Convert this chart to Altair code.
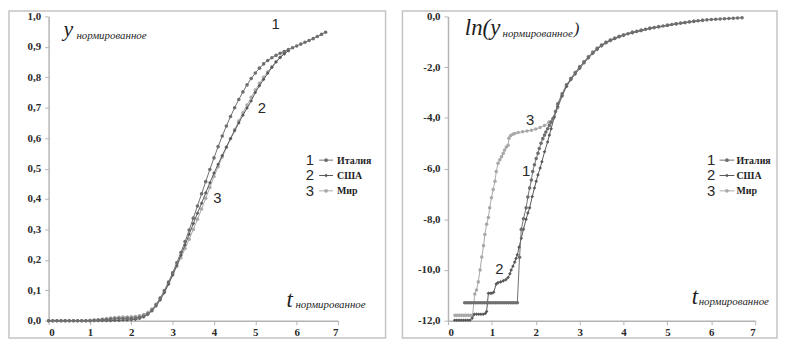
import altair as alt
import pandas as pd

# ---------------- data: left panel (y normalised vs t normalised) ----------------
t_left = [0.0, 0.1, 0.2, 0.3, 0.4, 0.5, 0.6, 0.7, 0.8, 0.9, 1.0, 1.1, 1.2, 1.3, 1.4, 1.5, 1.6, 1.7,
          1.8, 1.9, 2.0, 2.1, 2.2, 2.3, 2.4, 2.5, 2.6, 2.7, 2.8, 2.9, 3.0, 3.1, 3.2, 3.3, 3.4, 3.5,
          3.6, 3.7, 3.8, 3.9, 4.0, 4.1, 4.2, 4.3, 4.4, 4.5, 4.6, 4.7, 4.8, 4.9, 5.0, 5.1, 5.2, 5.3,
          5.4, 5.5, 5.6, 5.7, 5.8, 5.9, 6.0, 6.1, 6.2, 6.3, 6.4, 6.5, 6.6, 6.7]
y_left_italy = [0, 0, 0, 0, 0, 0, 0, 0, 0, 0, 0,
                .001, .002, .003, .004, .005, .006, .007, .007, .008, .008,
                .009, .011, .015, .023, .035, .052, .074, .099, .127, .157,
                .19, .224, .26, .298, .337, .377, .417, .457, .497, .535,
                .572, .607, .64, .671, .7, .727, .752, .775, .796, .814,
                .83, .844, .855, .864, .872, .879, .885, .891, .897, .903,
                .909, .915, .921, .927, .934, .941, .948]
y_left_usa = [0, 0, 0, 0, 0, 0, 0, 0, 0, 0, 0, 0, 0, 0, 0, 0,
              .001, .001, .002, .002, .003,
              .004, .007, .012, .02, .032, .048, .068, .092, .12, .15,
              .182, .215, .249, .284, .319, .353, .386, .42, .453, .485,
              .514, .543, .571, .598, .624, .65, .675, .699, .722, .75,
              .772, .793, .813, .832, .85, .865, .877, .887]
y_left_world = [0, 0, 0, 0, 0, 0, 0, 0, 0, 0,
                .001, .002, .003, .005, .007, .009, .01, .011, .012, .012, .013,
                .014, .016, .02, .027, .038, .054, .074, .097, .123, .15,
                .178, .207, .237, .268, .3, .333, .367, .402, .438, .474,
                .506, .538, .569, .599, .628, .656, .683, .709, .734, .758,
                .78, .8, .818, .835, .851, .866, .878, .888]

# ---------------- data: right panel (ln y normalised vs t normalised) ----------------
t_right_italy = [0.38, 0.43, 0.48, 0.53, 0.58, 0.63, 0.68, 0.73, 0.78, 0.83, 0.88, 0.93, 0.98,
                 1.03, 1.08, 1.13, 1.18, 1.23, 1.28, 1.33, 1.38, 1.43, 1.48, 1.53, 1.58,
                 1.63, 1.67, 1.72, 1.78, 1.82, 1.86, 1.90, 1.93, 1.97, 2.01, 2.05, 2.08, 2.12,
                 2.16, 2.20, 2.23, 2.27, 2.31, 2.35, 2.39, 2.45,
                 2.5, 2.6, 2.7, 2.8, 2.9, 3.0, 3.1, 3.2, 3.3, 3.4, 3.5, 3.6, 3.7, 3.8, 3.9, 4.0,
                 4.1, 4.2, 4.3, 4.4, 4.5, 4.6, 4.7, 4.8, 4.9, 5.0, 5.1, 5.2, 5.3, 5.4, 5.5, 5.6,
                 5.7, 5.8, 5.9, 6.0, 6.1, 6.2, 6.3, 6.4, 6.5, 6.6, 6.7]
ln_right_italy = [-11.29, -11.29, -11.29, -11.29, -11.29, -11.29, -11.29, -11.29, -11.29,
                  -11.29, -11.29, -11.29, -11.29, -11.29, -11.29, -11.29, -11.29, -11.29,
                  -11.29, -11.29, -11.29, -11.29, -11.29, -11.29, -11.29,
                  -9.5, -8.4, -7.98, -7.55, -7.12, -6.77, -6.45, -6.12, -5.85, -5.6, -5.4,
                  -5.21, -5.0, -4.82, -4.68, -4.56, -4.43, -4.3, -4.17, -4.04, -3.75,
                  -3.45, -3.05, -2.7, -2.45, -2.22, -2.0, -1.8, -1.6, -1.42, -1.27,
                  -1.14, -1.03, -0.94, -0.86, -0.79, -0.73, -0.68, -0.63, -0.59, -0.55,
                  -0.51, -0.47, -0.44, -0.41, -0.38, -0.35, -0.32, -0.29, -0.265, -0.24,
                  -0.215, -0.19, -0.17, -0.15, -0.135, -0.12, -0.11, -0.10, -0.09, -0.08,
                  -0.07, -0.06, -0.05]
t_right_usa = [0.15, 0.2, 0.25, 0.3, 0.35, 0.4, 0.45, 0.5, 0.55, 0.6, 0.65, 0.7, 0.75, 0.8, 0.85,
               0.88, 0.92, 0.96, 1.0, 1.04,
               1.1, 1.14, 1.2, 1.26, 1.32, 1.37, 1.41, 1.44, 1.48, 1.52, 1.55, 1.58, 1.62, 1.67,
               1.72, 1.78, 1.82, 1.86, 1.92, 1.97, 2.01, 2.05, 2.1, 2.14, 2.2, 2.27, 2.31, 2.35,
               2.42,
               2.5, 2.6, 2.7, 2.8, 2.9, 3.0, 3.1, 3.2, 3.3, 3.4, 3.5, 3.6, 3.7, 3.8, 3.9, 4.0,
               4.2, 4.4, 4.6, 4.8, 5.0, 5.2, 5.4, 5.6, 5.8]
ln_right_usa = [-11.98, -11.98, -11.98, -11.98, -11.98, -11.98, -11.98, -11.98, -11.9,
                -11.75, -11.75, -11.75, -11.75, -11.75, -11.72, -11.64,
                -10.92, -10.92, -10.92, -10.88,
                -10.55, -10.5, -10.47, -10.43, -10.38, -10.3, -10.15, -10.0, -9.85, -9.69,
                -9.55, -9.4, -9.1, -8.75, -8.39, -8.0, -7.75, -7.55, -7.1, -6.77, -6.5,
                -6.25, -5.98, -5.73, -5.34, -4.95, -4.68, -4.43, -3.97,
                -3.55, -3.12, -2.76, -2.5, -2.27, -2.05, -1.84, -1.64, -1.46, -1.3, -1.16,
                -1.05, -0.96, -0.88, -0.81, -0.75,
                -0.65, -0.56, -0.48, -0.42, -0.36, -0.3, -0.25, -0.2, -0.16]
t_right_world = [0.16, 0.21, 0.26, 0.31, 0.36, 0.41, 0.46, 0.51, 0.56,
                 0.61, 0.65, 0.69, 0.73, 0.77, 0.81, 0.84, 0.88, 0.92, 0.95, 0.99, 1.03, 1.07,
                 1.1, 1.14, 1.18, 1.22, 1.26, 1.29, 1.33, 1.37, 1.39, 1.43, 1.48, 1.52, 1.6,
                 1.7, 1.8, 1.9, 2.0, 2.1, 2.2, 2.3, 2.42,
                 2.5, 2.6, 2.7, 2.8, 2.9, 3.0, 3.1, 3.2, 3.3, 3.4, 3.5, 3.6, 3.7, 3.8, 3.9, 4.0,
                 4.2, 4.4, 4.6, 4.8, 5.0, 5.2, 5.4, 5.6, 5.8]
ln_right_world = [-11.79, -11.79, -11.79, -11.79, -11.79, -11.79, -11.79, -11.79, -11.79,
                  -10.95, -10.79, -10.47, -10.0, -9.49, -9.04, -8.6, -8.2, -7.93, -7.55,
                  -7.15, -6.83, -6.5, -6.12, -5.79, -5.65, -5.53, -5.4, -5.27, -5.15, -5.08,
                  -4.8, -4.7, -4.65, -4.62, -4.58, -4.55, -4.52, -4.49, -4.44, -4.38, -4.3,
                  -4.17, -3.97,
                  -3.6, -3.15, -2.75, -2.45, -2.2, -1.98, -1.78, -1.58, -1.4, -1.25, -1.12,
                  -1.01, -0.92, -0.85, -0.78, -0.72,
                  -0.62, -0.54, -0.46, -0.4, -0.34, -0.29, -0.24, -0.19, -0.15]

series_names = ["Италия", "США", "Мир"]
series_numbers = ["1", "2", "3"]
series_colors = ["#6f6f6f", "#585858", "#a9a9a9"]
series_shapes = ["circle", "diamond", "circle"]

left_ticks_y = [0.0, 0.1, 0.2, 0.3, 0.4, 0.5, 0.6, 0.7, 0.8, 0.9, 1.0]
right_ticks_y = [-12, -10, -8, -6, -4, -2, 0]
ticks_x = [0, 1, 2, 3, 4, 5, 6, 7]

# curve number labels (data coordinates)
left_labels_t = [5.49, 5.16, 4.08]
left_labels_v = [0.974, 0.70, 0.404]
right_labels_t = [1.78, 1.17, 1.87]
right_labels_v = [-6.08, -9.97, -4.07]


def frame(df_t, df_v):
    return pd.DataFrame({"t": df_t, "v": df_v})


left_data = {
    "Италия": frame(t_left[:len(y_left_italy)], y_left_italy),
    "США": frame(t_left[:len(y_left_usa)], y_left_usa),
    "Мир": frame(t_left[:len(y_left_world)], y_left_world),
}
right_data = {
    "Италия": frame(t_right_italy, ln_right_italy),
    "США": frame(t_right_usa, ln_right_usa),
    "Мир": frame(t_right_world, ln_right_world),
}

ONE = alt.Data(values=[{"a": 1}])
SERIF = "Liberation Serif, Times New Roman, serif"
SANS = "Liberation Sans, Arial, sans-serif"
LABEL_EXPR = "replace(replace(format(datum.value, '.1f'), '.', ','), '\u2212', '-')"
FRAME_TOP = -5.5
FRAME_BOTTOM = 324.5


def text_px(txt, x, y, size, style="normal", weight="normal", font=SERIF,
            align="left", baseline="alphabetic", color="#1e1e1e"):
    return alt.Chart(ONE).mark_text(
        text=txt, font=font, fontSize=size, fontStyle=style, fontWeight=weight,
        align=align, baseline=baseline, color=color
    ).encode(x=alt.value(x), y=alt.value(y))


def panel(data, ydomain, yticks, width, height, frame_l, frame_r, lab_t, lab_v,
          titles, legend_x):
    xenc = alt.X("t:Q", scale=alt.Scale(domain=[0, 7], nice=False, zero=False),
                 axis=alt.Axis(values=ticks_x, format="d", title=None, labelOverlap=False))
    yenc = alt.Y("v:Q", scale=alt.Scale(domain=ydomain, nice=False, zero=False),
                 axis=alt.Axis(values=yticks, labelExpr=LABEL_EXPR, title=None,
                               labelOverlap=False))
    layers = [
        alt.Chart(ONE).mark_rect(fillOpacity=0, stroke="#c4c4c4", strokeWidth=1.5).encode(
            x=alt.value(frame_l), x2=alt.value(width + frame_r),
            y=alt.value(FRAME_TOP), y2=alt.value(FRAME_BOTTOM))
    ]
    for idx in [2, 1, 0]:
        name = series_names[idx]
        df = data[name]
        base = alt.Chart(df)
        layers.append(base.mark_line(color=series_colors[idx], strokeWidth=1).encode(
            x=xenc, y=yenc))
        layers.append(base.mark_point(color=series_colors[idx], shape=series_shapes[idx],
                                      filled=True, size=13, opacity=1).encode(x=xenc, y=yenc))
    lab_df = pd.DataFrame({"t": lab_t, "v": lab_v, "label": series_numbers})
    layers.append(alt.Chart(lab_df).mark_text(
        font=SANS, fontSize=15, align="center", baseline="middle", color="#2a2a2a"
    ).encode(x=xenc, y=yenc, text="label:N"))
    for tt in titles:
        layers.append(text_px(*tt[:4], style="italic"))
    nx, lx1, lx2, mx, tx = legend_x
    for i, yy in enumerate([145, 160.5, 176]):
        layers.append(text_px(series_numbers[i], nx, yy, 15, font=SANS, align="center",
                              baseline="middle", color="#2a2a2a"))
        layers.append(alt.Chart(ONE).mark_rule(color=series_colors[i], strokeWidth=1).encode(
            x=alt.value(lx1), x2=alt.value(lx2), y=alt.value(yy)))
        layers.append(alt.Chart(ONE).mark_point(color=series_colors[i], shape=series_shapes[i],
                                                filled=True, size=14, opacity=1).encode(
            x=alt.value(mx), y=alt.value(yy)))
        layers.append(text_px(series_names[i], tx, yy + 0.5, 10, weight="bold",
                              baseline="middle", color="#1e1e1e"))
    return alt.layer(*layers).properties(width=width, height=height)


left_titles = [
    ("y", 15, 20, 22),
    ("нормированное", 28, 23, 11),
    ("t", 240, 293, 23),
    ("нормированное", 249, 294, 11),
]
right_titles = [
    ("ln(y", 17, 19, 23),
    ("нормированное", 55, 21, 11),
    (")", 127, 18, 17),
    ("t", 246, 290, 23),
    ("нормированное", 253, 291, 11),
]

left = panel(left_data, [0, 1], left_ticks_y, 292, 307, -40, 48,
             left_labels_t, left_labels_v, left_titles, (263.5, 273, 287, 280, 291))
right = panel(right_data, [-12, 0], right_ticks_y, 310, 307, -46, 22,
              right_labels_t, right_labels_v, right_titles, (265.5, 274, 289, 281.5, 291))

chart = alt.hconcat(left, right, spacing=111, bounds="flush").properties(
    padding=0
).configure_view(stroke=None).configure_axis(
    grid=False, domainColor="#b4b4b4", domainWidth=1.5, tickColor="#b4b4b4",
    tickSize=4, labelFont=SERIF, labelFontWeight="bold", labelFontSize=11,
    labelColor="#2a2a2a"
).configure_axisY(labelPadding=4).configure_axisX(labelPadding=2)

chart.save("out.html", embed_options={"renderer": "svg", "actions": False})
